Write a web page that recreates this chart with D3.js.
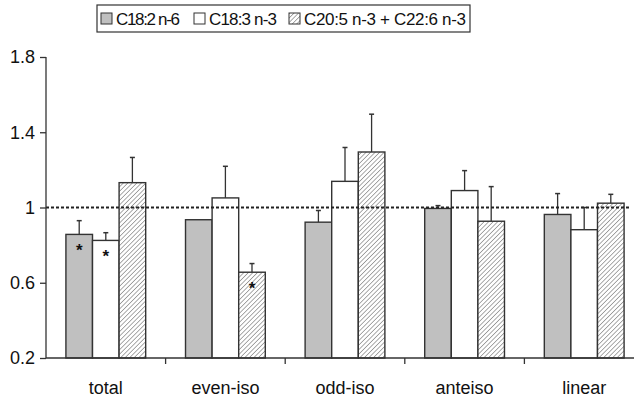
<!doctype html>
<html>
<head>
<script src="https://d3js.org/d3.v7.min.js"></script>
<style>
  body { margin: 0; background: #fff; }
  text { font-family: "Liberation Sans", Arial, sans-serif; fill: #111; }
</style>
</head>
<body>
<script>
var categories = ["total", "even-iso", "odd-iso", "anteiso", "linear"];
var seriesNames = ["C18:2 n-6", "C18:3 n-3", "C20:5 n-3 + C22:6 n-3"];
var c182 = [0.857, 0.935, 0.922, 0.995, 0.963];
var c182Err = [0.073, 0, 0.062, 0.015, 0.111];
var c183 = [0.825, 1.051, 1.139, 1.09, 0.882];
var c183Err = [0.041, 0.168, 0.18, 0.106, 0.118];
var c20 = [1.132, 0.656, 1.295, 0.927, 1.023];
var c20Err = [0.134, 0.046, 0.201, 0.184, 0.047];
var stars = [[true, true, false], [false, false, true], [false, false, false], [false, false, false], [false, false, false]];
var yTicks = [0.2, 0.6, 1, 1.4, 1.8];
var refLine = 1;

var width = 636, height = 397;
var margin = {top: 57, right: -8, bottom: 39, left: 46};

var svg = d3.select("body").append("svg")
    .attr("width", width)
    .attr("height", height);

var defs = svg.append("defs");
var pat = defs.append("pattern")
    .attr("id", "hatch")
    .attr("patternUnits", "userSpaceOnUse")
    .attr("width", 3.2)
    .attr("height", 3.2)
    .attr("patternTransform", "rotate(45)");
pat.append("rect").attr("width", 3.2).attr("height", 3.2).attr("fill", "#fff");
pat.append("line")
    .attr("x1", 0).attr("y1", 0).attr("x2", 0).attr("y2", 3.2)
    .attr("stroke", "#666").attr("stroke-width", 1.1);

var fills = ["#c0c0c0", "#ffffff", "url(#hatch)"];

var x = d3.scaleBand()
    .domain(categories)
    .range([margin.left, width - margin.right])
    .paddingInner(0.333)
    .paddingOuter(0.1665);

var xSub = d3.scaleBand()
    .domain(d3.range(seriesNames.length))
    .range([0, x.bandwidth()]);

var y = d3.scaleLinear()
    .domain([0.2, 1.8])
    .range([height - margin.bottom, margin.top]);

var data = categories.map(function(c, i) {
  return {
    cat: c,
    vals: [
      {s: 0, v: c182[i], e: c182Err[i], star: stars[i][0]},
      {s: 1, v: c183[i], e: c183Err[i], star: stars[i][1]},
      {s: 2, v: c20[i], e: c20Err[i], star: stars[i][2]}
    ]
  };
});

// error bars (drawn first so bar outline sits over them)
var groups = svg.selectAll(".grp")
    .data(data)
    .enter().append("g")
    .attr("class", "grp")
    .attr("transform", function(d) { return "translate(" + x(d.cat) + ",0)"; });

var errs = groups.selectAll(".err")
    .data(function(d) { return d.vals.filter(function(v) { return v.e > 0; }); })
    .enter().append("g");
errs.append("line")
    .attr("x1", function(d) { return xSub(d.s) + xSub.bandwidth() / 2; })
    .attr("x2", function(d) { return xSub(d.s) + xSub.bandwidth() / 2; })
    .attr("y1", function(d) { return y(d.v); })
    .attr("y2", function(d) { return y(d.v + d.e); })
    .attr("stroke", "#333").attr("stroke-width", 1.3);
errs.append("line")
    .attr("x1", function(d) { return xSub(d.s) + xSub.bandwidth() / 2 - 2.5; })
    .attr("x2", function(d) { return xSub(d.s) + xSub.bandwidth() / 2 + 2.5; })
    .attr("y1", function(d) { return y(d.v + d.e); })
    .attr("y2", function(d) { return y(d.v + d.e); })
    .attr("stroke", "#333").attr("stroke-width", 1.5);

groups.selectAll(".bar")
    .data(function(d) { return d.vals; })
    .enter().append("rect")
    .attr("class", "bar")
    .attr("x", function(d) { return xSub(d.s); })
    .attr("width", xSub.bandwidth())
    .attr("y", function(d) { return y(d.v); })
    .attr("height", function(d) { return y(0.2) - y(d.v); })
    .attr("fill", function(d) { return fills[d.s]; })
    .attr("stroke", "#333")
    .attr("stroke-width", 1.4);

groups.selectAll(".star")
    .data(function(d) { return d.vals.filter(function(v) { return v.star; }); })
    .enter().append("text")
    .attr("x", function(d) { return xSub(d.s) + xSub.bandwidth() / 2; })
    .attr("y", function(d) { return y(d.v) + 22; })
    .attr("text-anchor", "middle")
    .attr("font-size", "17px")
    .attr("font-weight", "bold")
    .text("*");

// reference dashed line
svg.append("line")
    .attr("x1", margin.left)
    .attr("x2", 631)
    .attr("y1", y(refLine))
    .attr("y2", y(refLine))
    .attr("stroke", "#222")
    .attr("stroke-width", 2)
    .attr("stroke-dasharray", "3,2");

// axes
var yAxis = svg.append("g")
    .attr("transform", "translate(" + margin.left + ",0)")
    .call(d3.axisLeft(y).tickValues(yTicks).tickSize(6).tickPadding(5)
      .tickFormat(function(d) { return d; }));
yAxis.select(".domain").attr("stroke", "#333").attr("stroke-width", 1.3).attr("d", "M0," + y(1.8) + "V" + y(0.2));
yAxis.selectAll(".tick line").attr("stroke", "#333").attr("stroke-width", 1.3);
yAxis.selectAll("text").attr("font-size", "18px").attr("fill", "#111")
    .attr("font-family", "'Liberation Sans', Arial, sans-serif");

var xAxisG = svg.append("g")
    .attr("transform", "translate(0," + y(0.2) + ")");
xAxisG.append("line")
    .attr("x1", margin.left).attr("x2", 634)
    .attr("stroke", "#333").attr("stroke-width", 1.3);
xAxisG.selectAll(".xt")
    .data(categories.slice(1))
    .enter().append("line")
    .attr("x1", function(d) { return x(d) - x.step() * x.paddingInner() / 2; })
    .attr("x2", function(d) { return x(d) - x.step() * x.paddingInner() / 2; })
    .attr("y1", 0).attr("y2", 6)
    .attr("stroke", "#333").attr("stroke-width", 1.3);
xAxisG.selectAll(".xl")
    .data(categories)
    .enter().append("text")
    .attr("x", function(d) { return x(d) + x.bandwidth() / 2; })
    .attr("y", 36)
    .attr("text-anchor", "middle")
    .attr("font-size", "18px")
    .text(function(d) { return d; });

// legend
var legend = svg.append("g");
legend.append("rect")
    .attr("x", 97).attr("y", 5)
    .attr("width", 373).attr("height", 27)
    .attr("fill", "#fff").attr("stroke", "#333").attr("stroke-width", 1.2);
var legX = [101, 194, 289];
var items = legend.selectAll(".li")
    .data(seriesNames)
    .enter().append("g")
    .attr("transform", function(d, i) { return "translate(" + legX[i] + ",13)"; });
items.append("rect")
    .attr("width", 11).attr("height", 11)
    .attr("fill", function(d, i) { return fills[i]; })
    .attr("stroke", "#333").attr("stroke-width", 1);
items.append("text")
    .attr("x", 15).attr("y", 12)
    .attr("font-size", "17px")
    .attr("textLength", function(d, i) { return [64, 68, 162][i]; })
    .text(function(d) { return d; });
</script>
</body>
</html>
